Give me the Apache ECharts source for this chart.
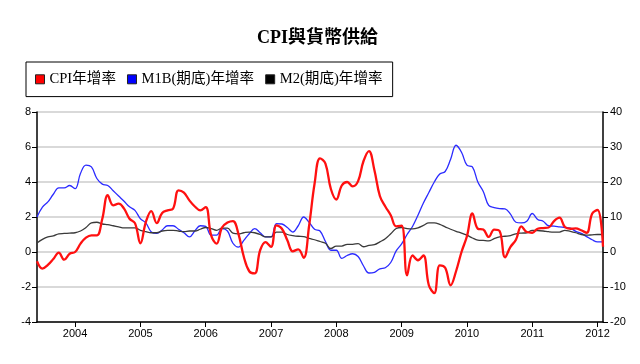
<!DOCTYPE html>
<html><head><meta charset="utf-8">
<script src="https://cdn.jsdelivr.net/npm/echarts@6/dist/echarts.min.js"></script>
<style>html,body{margin:0;padding:0;background:#fff}#c{width:640px;height:364px}</style>
</head><body><div id="c"></div>
<script>
// Monthly, Jun 2003 .. Feb 2012
const startYear = 2003, startMonth = 6, monthCount = 105;
const months = [];
for (let i = 0; i < monthCount; i++) {
  const t = startYear * 12 + (startMonth - 1) + i;
  const y = Math.floor(t / 12), m = t % 12 + 1;
  months.push(y + '-' + (m < 10 ? '0' + m : '' + m));
}
const yearTickLabels = ['2004','2005','2006','2007','2008','2009','2010','2011','2012'];

// CPI year-on-year growth (%), left axis
const cpi = [-0.53,-0.95,-0.74,-0.4,-0.04,-0.44,-0.1,0.0,0.48,0.82,0.95,0.95,1.9,3.25,2.67,2.76,2.48,1.9,1.65,0.5,
  1.71,2.34,1.65,2.23,2.38,2.48,3.52,3.39,2.95,2.6,2.38,2.57,0.95,0.48,1.4,1.68,1.77,1.05,-0.27,-1.1,
  -1.22,0.1,0.57,0.29,1.52,1.33,0.67,0.04,0.15,-0.33,1.5,3.9,5.35,5.05,3.6,3.0,3.8,4.0,3.75,4.05,
  5.2,5.77,4.67,3.2,2.6,2.1,1.47,1.5,-1.33,-0.2,-0.47,-0.2,-1.9,-2.35,-0.76,-0.9,-1.9,-1.1,0.0,0.9,
  2.2,1.33,1.28,0.86,1.28,1.2,-0.3,0.29,0.7,1.47,1.14,1.1,1.33,1.37,1.4,1.77,1.96,1.43,1.33,1.35,
  1.24,1.1,2.19,2.4,0.3];
// M1B (end of period) growth (%), right axis
const m1b = [10,12.8,14.3,16.5,18.3,18.3,19,18.1,22.5,24.8,24.3,21,19.4,19,17.5,16,14.5,12.9,11.9,9.5,
  8.3,5.7,5.3,6.3,7.5,7.5,6.5,5.5,4.3,6,7.5,7.3,4.8,4.8,6.7,6.0,2.5,1.4,3.3,5.2,
  6.7,5.5,4.3,4.3,8.1,8.0,7.0,5.7,7.5,10,8.5,6.5,6.0,3.0,0.5,0.5,-1.8,-1.0,-0.5,-1.3,
  -4.0,-6.0,-5.8,-4.8,-4.5,-3.0,0.3,2.3,5.0,7.3,10.5,14,17,20,22.3,23,26.5,30.5,28.5,24.8,
  24.3,20,17.3,13.3,12.7,12.4,12.3,10.8,8.5,8.3,8.8,11,9.3,8.8,7.5,7.4,7.2,7.0,6.8,5.9,
  5.3,4.4,3.5,2.9,2.9];
// M2 (end of period) growth (%), right axis
const m2 = [2.55,3.6,4.3,4.6,5.2,5.3,5.4,5.5,6.0,7.0,8.3,8.5,8.0,7.8,7.5,7.2,6.9,6.9,6.9,6.2,
  5.8,5.5,5.5,6.0,6.2,6.2,6.0,5.8,6.0,6.0,6.5,7.0,6.7,6.2,6.8,6.8,5.4,5.2,5.5,5.7,
  5.5,5.0,4.3,4.3,5.7,5.7,5.0,4.7,4.5,4.4,3.9,3.5,3.0,2.5,1.0,1.7,1.7,2.2,2.2,2.4,
  1.5,1.9,2.1,2.9,3.8,5.2,6.7,7.0,6.7,6.6,6.9,7.6,8.3,8.3,7.9,7.2,6.5,5.9,5.4,4.8,
  4.0,3.4,3.3,3.2,3.8,4.3,4.5,4.7,5.2,5.4,5.5,6.2,6.1,6.0,5.8,5.7,5.7,6.2,5.9,5.5,
  5.0,4.8,4.9,5.0,5.0];

const seriesNames = ['CPI年增率', 'M1B(期底)年增率', 'M2(期底)年增率'];
const isJan = (i, v) => v.slice(5) === '01';
const serif = '"Liberation Serif","Noto Sans CJK TC",serif';
const sans = '"Liberation Sans",Arial,sans-serif';

const chart = echarts.init(document.getElementById('c'), null, {renderer: 'canvas'});
chart.setOption({
  animation: false,
  backgroundColor: '#fff',
  title: {
    text: 'CPI與貨幣供給', left: 252, top: 24,
    textStyle: {fontFamily: serif, fontSize: 18, fontWeight: 'bold', color: '#000'}
  },
  legend: {
    left: 26, top: 62, orient: 'horizontal',
    borderColor: '#000', borderWidth: 1,
    padding: [10, 10, 10, 9], itemGap: 11, itemWidth: 9, itemHeight: 9,
    icon: 'rect',
    itemStyle: {borderColor: '#222', borderWidth: 1},
    textStyle: {fontFamily: serif, fontSize: 14.6, color: '#000'},
    data: seriesNames
  },
  grid: {left: 37, right: 37, top: 112, bottom: 42, containLabel: false},
  xAxis: {
    type: 'category', boundaryGap: false, data: months,
    axisLine: {onZero: false, lineStyle: {color: '#000', width: 1.5}},
    axisTick: {interval: isJan, length: 5, lineStyle: {color: '#000'}},
    axisLabel: {interval: isJan, formatter: v => v.slice(0, 4), color: '#000', fontSize: 11, fontFamily: sans, margin: 6},
    splitLine: {show: false}
  },
  yAxis: [{
    type: 'value', min: -4, max: 8, interval: 2, position: 'left',
    axisLine: {show: true, lineStyle: {color: '#000', width: 1.5}},
    axisTick: {show: true, length: 5, lineStyle: {color: '#000'}},
    axisLabel: {color: '#000', fontSize: 11, fontFamily: sans, margin: 6},
    splitLine: {show: true, lineStyle: {color: '#cccccc', width: 1.5}}
  }, {
    type: 'value', min: -20, max: 40, interval: 10, position: 'right',
    axisLine: {show: true, lineStyle: {color: '#000', width: 1.5}},
    axisTick: {show: true, length: 5, lineStyle: {color: '#000'}},
    axisLabel: {color: '#000', fontSize: 11, fontFamily: sans, margin: 7},
    splitLine: {show: false}
  }],
  series: [{
    name: seriesNames[0], type: 'line', yAxisIndex: 0, data: cpi, z: 5,
    showSymbol: false, smooth: 0.4, color: '#ff0000',
    lineStyle: {color: '#ff1010', width: 2.3}
  }, {
    name: seriesNames[1], type: 'line', yAxisIndex: 1, data: m1b, z: 3,
    showSymbol: false, smooth: 0.4, color: '#0000ff',
    lineStyle: {color: '#2b2bff', width: 1.3}
  }, {
    name: seriesNames[2], type: 'line', yAxisIndex: 1, data: m2, z: 4,
    showSymbol: false, smooth: 0.4, color: '#000000',
    lineStyle: {color: '#3a3a3a', width: 1.3}
  }]
});
</script></body></html>
